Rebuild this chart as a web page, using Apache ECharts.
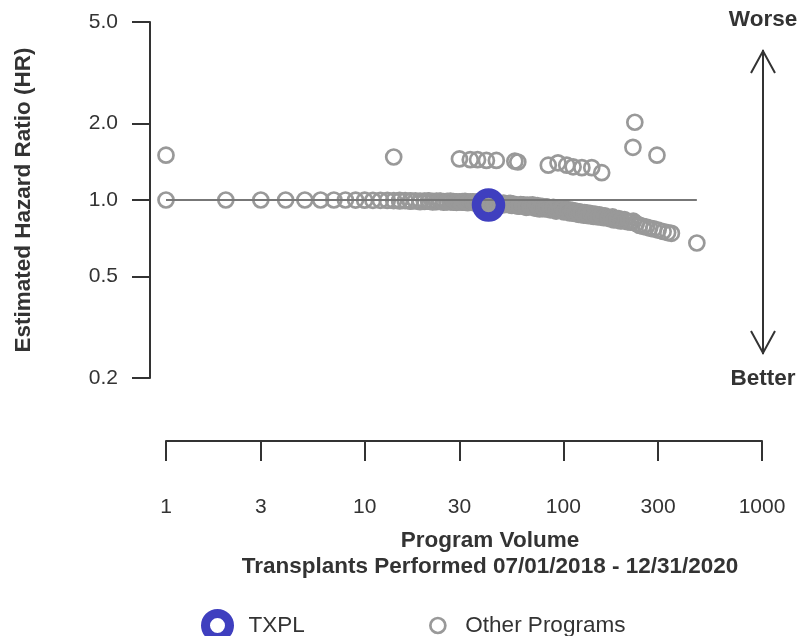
<!DOCTYPE html>
<html>
<head>
<meta charset="utf-8">
<script src="https://cdn.jsdelivr.net/npm/echarts@6.0.0/dist/echarts.min.js"></script>
<style>
  html, body { margin: 0; padding: 0; background: #fff; }
  #chart { width: 806px; height: 636px; }
</style>
</head>
<body>
<div id="chart"></div>
<script>
// other programs: volume vs estimated HR
const otherVolume = [
  1, 2, 3, 4, 5, 6, 7, 8, 9, 10, 11, 12, 13,
  14, 15, 15, 16, 17, 17, 18, 19, 20, 20, 21, 22, 23, 23, 24, 25, 26, 27, 28, 28, 29, 30, 31, 32, 33, 34, 35, 36, 37, 38, 39, 40,
  41, 42, 43, 44, 45, 46, 47, 48, 49, 50, 52, 53, 55, 56, 58, 59, 61, 62, 64, 66, 67, 69, 71, 73, 75, 77, 79, 81, 83, 85, 88, 90, 93, 95, 98, 100,
  103, 106, 109, 112, 115, 118, 121, 125, 128, 132, 136, 140, 144, 148, 152, 157, 162, 166, 171, 177, 183, 190, 197, 203, 210, 218, 225, 233, 242, 252, 262, 272, 285, 300, 318, 335, 350, 470,
  19, 21, 22, 24, 25, 26, 27, 29, 31, 32, 33, 35, 36, 38, 40, 43, 45, 47, 49, 51, 54, 57, 60, 63, 65, 68, 70, 72, 74, 76,
  78, 80, 82, 86, 89, 92, 96, 99, 101, 105, 108, 111, 114, 117, 120, 123, 127, 130, 134, 138, 142, 146, 150, 155, 160, 168, 174, 180, 186, 194,
  1, 14, 30, 34, 37, 41, 46, 57, 59, 84, 94, 104, 112, 124, 139, 156, 224, 229, 296
]
const otherHR = [
  1.00, 1.00, 1.00, 1.00, 1.00, 1.00, 1.00, 1.00, 0.999, 0.998, 0.997, 0.997, 0.996,
  0.995, 0.996, 0.992, 0.994, 0.993, 0.989, 0.992, 0.990, 0.991, 0.987, 0.990, 0.988, 0.989, 0.985, 0.987, 0.986, 0.988, 0.984, 0.985, 0.981, 0.984, 0.983, 0.985, 0.980, 0.982, 0.983, 0.979, 0.981, 0.978, 0.980, 0.976, 0.979,
  0.975, 0.955, 0.972, 0.968, 0.975, 0.963, 0.970, 0.958, 0.966, 0.972, 0.960, 0.968, 0.952, 0.963, 0.957, 0.948, 0.960, 0.950, 0.944, 0.955, 0.940, 0.948, 0.936, 0.945, 0.930, 0.941, 0.933, 0.922, 0.938, 0.925, 0.930, 0.916, 0.926, 0.912, 0.922, 0.908,
  0.918, 0.900, 0.912, 0.895, 0.905, 0.888, 0.898, 0.882, 0.893, 0.876, 0.886, 0.870, 0.880, 0.866, 0.874, 0.858, 0.866, 0.855, 0.848, 0.858, 0.840, 0.845, 0.830, 0.838, 0.822, 0.818, 0.826, 0.808, 0.795, 0.788, 0.783, 0.776, 0.770, 0.762, 0.752, 0.745, 0.740, 0.678,
  0.985, 0.993, 0.983, 0.991, 0.980, 0.984, 0.990, 0.979, 0.980, 0.987, 0.976, 0.984, 0.974, 0.985, 0.970, 0.965, 0.960, 0.974, 0.955, 0.962, 0.970, 0.953, 0.946, 0.958, 0.936, 0.952, 0.958, 0.930, 0.950, 0.922,
  0.945, 0.928, 0.940, 0.915, 0.935, 0.905, 0.920, 0.930, 0.898, 0.915, 0.890, 0.908, 0.885, 0.900, 0.878, 0.892, 0.872, 0.890, 0.868, 0.880, 0.862, 0.872, 0.858, 0.868, 0.852, 0.850, 0.842, 0.835, 0.838, 0.828,
  1.50, 1.475, 1.45, 1.44, 1.44, 1.43, 1.43, 1.42, 1.41, 1.37, 1.40, 1.37, 1.35, 1.34, 1.34, 1.28, 1.61, 2.02, 1.50
]
const txplVolume = [42]
const txplHR = [0.955]
const refLineVolume = [1, 470]
const refLineHR = [1, 1]
const xTicks = [1, 3, 10, 30, 100, 300, 1000]
const yTicks = [0.2, 0.5, 1, 2, 5]

const FONT = "'Liberation Sans', Arial, Helvetica, sans-serif"
const TXT = '#333'
const GRAY = '#999'
const BLUE = '#3f3fbf'

const zip = (xs, ys) => xs.map((x, i) => [x, ys[i]])

const chart = echarts.init(document.getElementById('chart'))
chart.setOption({
  animation: false,
  textStyle: { fontFamily: FONT },
  grid: { left: 166, right: 44, top: 22, bottom: 258, containLabel: false, outerBoundsMode: 'none' },
  xAxis: {
    type: 'log',
    logBase: 10,
    min: 1,
    max: 1000,
    offset: 63,
    splitLine: { show: false },
    axisLine: { lineStyle: { color: TXT, width: 2 } },
    axisTick: { customValues: xTicks, length: 20, lineStyle: { color: TXT, width: 2 } },
    axisLabel: {
      customValues: xTicks,
      margin: 56,
      color: TXT,
      fontSize: 21,
      formatter: v => String(v)
    },
    name: 'Program Volume\nTransplants Performed 07/01/2018 - 12/31/2020',
    nameLocation: 'middle',
    nameGap: 87,
    // title sits a bit right of the axis centre in the original
    nameTextStyle: { color: TXT, fontSize: 22.5, fontWeight: 'bold', lineHeight: 26, padding: [0, 0, 0, 52] }
  },
  yAxis: {
    type: 'log',
    logBase: 10,
    min: 0.2,
    max: 5,
    offset: 16,
    splitLine: { show: false },
    axisLine: { lineStyle: { color: TXT, width: 2 } },
    axisTick: { customValues: yTicks, length: 18, lineStyle: { color: TXT, width: 2 } },
    axisLabel: {
      customValues: yTicks,
      margin: 32,
      color: TXT,
      fontSize: 21,
      formatter: v => Number(v).toFixed(1)
    },
    name: 'Estimated Hazard Ratio (HR)',
    nameLocation: 'middle',
    nameGap: 115,
    nameTextStyle: { color: TXT, fontSize: 22.5, fontWeight: 'bold' }
  },
  legend: [{
    left: 196,
    top: 604,
    itemWidth: 24,
    itemHeight: 24,
    textStyle: { color: TXT, fontSize: 22.5, padding: [0, 0, 0, 14] },
    data: [{ name: 'TXPL', icon: 'circle', itemStyle: { color: 'transparent', borderColor: BLUE, borderWidth: 9, opacity: 1 } }]
  }, {
    left: 424,
    top: 609,
    itemWidth: 15,
    itemHeight: 15,
    textStyle: { color: TXT, fontSize: 22.5, padding: [0, 0, 0, 15] },
    data: [{ name: 'Other Programs', icon: 'circle', itemStyle: { color: 'transparent', borderColor: GRAY, borderWidth: 2.7, opacity: 1 } }]
  }],
  graphic: [
    { type: 'line', shape: { x1: 763, y1: 50, x2: 763, y2: 354 }, style: { stroke: TXT, lineWidth: 2 } },
    { type: 'polyline', shape: { points: [[751, 73], [763, 51], [775, 73]] }, style: { stroke: TXT, lineWidth: 2, fill: null } },
    { type: 'polyline', shape: { points: [[751, 331], [763, 353], [775, 331]] }, style: { stroke: TXT, lineWidth: 2, fill: null } },
    { type: 'text', x: 763, y: 20, style: { text: 'Worse', fill: TXT, font: 'bold 22.5px ' + FONT, align: 'center', verticalAlign: 'middle' } },
    { type: 'text', x: 763, y: 379, style: { text: 'Better', fill: TXT, font: 'bold 22.5px ' + FONT, align: 'center', verticalAlign: 'middle' } }
  ],
  series: [{
    name: 'Other Programs',
    type: 'scatter',
    symbol: 'circle',
    symbolSize: 15,
    itemStyle: { color: 'transparent', borderColor: GRAY, borderWidth: 2.7, opacity: 1 },
    data: zip(otherVolume, otherHR),
    z: 2
  }, {
    name: 'ref',
    type: 'line',
    showSymbol: false,
    lineStyle: { color: '#777', width: 2 },
    data: zip(refLineVolume, refLineHR),
    z: 3
  }, {
    name: 'TXPL',
    type: 'scatter',
    symbol: 'circle',
    symbolSize: 24,
    itemStyle: { color: 'transparent', borderColor: BLUE, borderWidth: 9.5, opacity: 1 },
    data: zip(txplVolume, txplHR),
    z: 4
  }]
})
</script>
</body>
</html>
